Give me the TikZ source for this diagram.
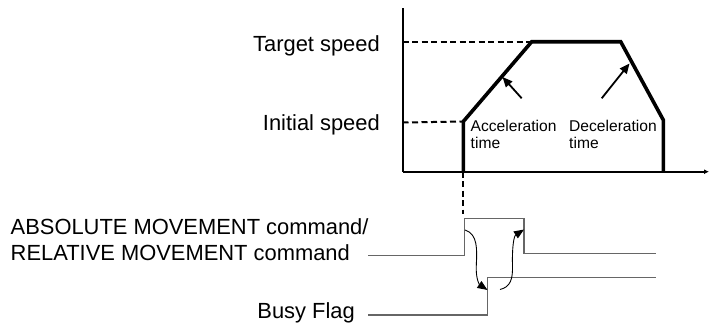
\documentclass[tikz,border=0pt]{standalone}
\usepackage{fontspec}
\setmainfont{Liberation Sans}
\usetikzlibrary{arrows.meta}
\begin{document}
\begin{tikzpicture}[x=1pt,y=-1pt,
  bigtxt/.style={inner sep=0pt,font=\fontsize{21.9}{26}\selectfont},
  smalltxt/.style={inner sep=0pt,font=\fontsize{15.6}{17}\selectfont},
  axisline/.style={line width=2pt,black},
  profile/.style={line width=3.6pt,black,line join=miter},
  guide/.style={line width=2pt,dash pattern=on 6pt off 3.5pt},
  signal/.style={line width=1.3pt,black!60},
  curvearrow/.style={line width=0.9pt,-{Triangle[length=10pt,width=8pt]}},
  ptr/.style={line width=1.8pt,-{Triangle[length=10pt,width=8.5pt]}}]
\useasboundingbox (0,0) rectangle (711,322);
% axes
\coordinate (ytop) at (402.5,8);
\coordinate (orig) at (402.5,171.7);
\coordinate (xend) at (709,171.7);
\draw[axisline] (ytop) -- (orig);
\draw[axisline,-{Latex[length=5pt,width=5pt]}] (orig) -- (xend);
% profile points
\coordinate (p0) at (463.3,171.7);
\coordinate (p1) at (463.3,121.5);
\coordinate (p2) at (531.7,41.7);
\coordinate (p3) at (620.7,41.7);
\coordinate (p4) at (663.3,120);
\coordinate (p5) at (663.3,171.7);
\coordinate (ty) at (402.5,41.7);
\coordinate (iy) at (402.5,122.5);
\draw[guide] (ty) -- (p2);
\draw[guide] (iy) -- (p1);
\draw[profile] (p0) -- (p1) -- (p2) -- (p3) -- (p4) -- (p5);
\coordinate (dl) at (463.3,214);
\draw[guide] (p0) -- (dl);
% pointers
\coordinate (a0) at (521.7,98.3);
\coordinate (a1) at (502.5,77);
\coordinate (d0) at (601.7,98.3);
\coordinate (d1) at (629.5,63.5);
\draw[ptr] (a0) -- (a1);
\draw[ptr] (d0) -- (d1);
% labels
\node[bigtxt,anchor=base east] (target) at (380,51) {Target speed};
\node[bigtxt,anchor=base east] (initial) at (380,130) {Initial speed};
\node[smalltxt,anchor=base west] (acc1) at (470.5,131.5) {Acceleration};
\node[smalltxt,anchor=base west] (acc2) at (470.5,148) {time};
\node[smalltxt,anchor=base west] (dec1) at (569,131.5) {Deceleration};
\node[smalltxt,anchor=base west] (dec2) at (569,148) {time};
\node[bigtxt,anchor=base west] (cmd1) at (10.5,234) {ABSOLUTE MOVEMENT command/};
\node[bigtxt,anchor=base west] (cmd2) at (10.5,260) {RELATIVE MOVEMENT command};
\node[bigtxt,anchor=base east] (busy) at (355,318.5) {Busy Flag};
% command signal
\coordinate (c0) at (368,255.7);
\coordinate (c1) at (464.3,255.7);
\coordinate (c2) at (464.3,218.3);
\coordinate (c3) at (524,218.3);
\coordinate (c4) at (524,253.3);
\coordinate (c5) at (656,253.3);
\draw[signal] (c0) -- (c1) -- (c2) -- (c3) -- (c4) -- (c5);
% busy signal
\coordinate (b0) at (368,315);
\coordinate (b1) at (487.7,315);
\coordinate (b2) at (487.7,277.7);
\coordinate (b3) at (656,277.7);
\draw[signal] (b0) -- (b1) -- (b2) -- (b3);
% causal arrows
\coordinate (s1) at (465,230);
\coordinate (m1) at (476.3,265);
\coordinate (t1) at (487.5,290);
\draw[curvearrow] (s1) .. controls (478,234) and (477,250) .. (m1) .. controls (475.5,280) and (480,285) .. (t1);
\coordinate (s2) at (500,289.5);
\coordinate (m2) at (512.5,265);
\coordinate (t2) at (524,229.5);
\draw[curvearrow] (s2) .. controls (510,287) and (513,280) .. (m2) .. controls (512,246) and (514,236) .. (t2);
\end{tikzpicture}
\end{document}
